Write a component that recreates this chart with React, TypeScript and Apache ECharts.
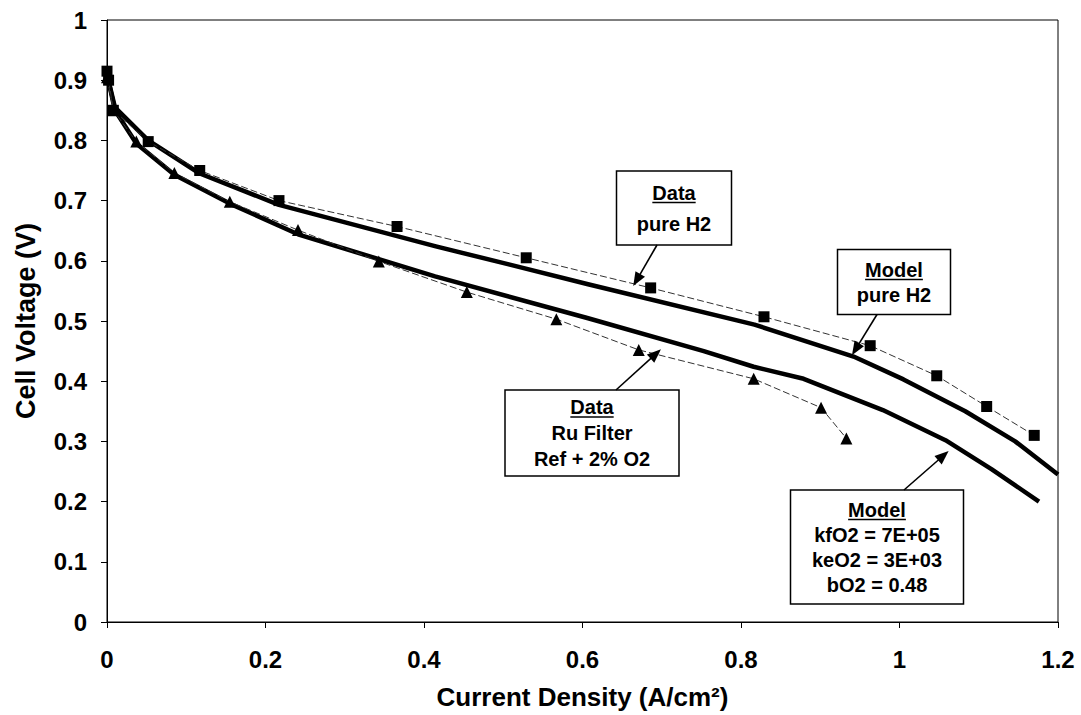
import React, { useEffect, useRef } from "react";
import * as echarts from "echarts";

// ---- Data ----
// Data, pure H2 (squares)
const currentH2Data = [0, 0.002, 0.008, 0.052, 0.117, 0.217, 0.366, 0.529, 0.686, 0.829, 0.963, 1.047, 1.11, 1.17];
const voltageH2Data = [0.915, 0.9, 0.85, 0.798, 0.75, 0.7, 0.657, 0.605, 0.555, 0.507, 0.459, 0.409, 0.358, 0.31];

// Data, Ru Filter, Ref + 2% O2 (triangles)
const currentRuData = [0, 0.008, 0.037, 0.085, 0.155, 0.241, 0.343, 0.454, 0.567, 0.671, 0.816, 0.901, 0.933];
const voltageRuData = [0.905, 0.85, 0.798, 0.746, 0.698, 0.651, 0.599, 0.548, 0.503, 0.452, 0.404, 0.356, 0.305];

// Model, pure H2 (thick line)
const currentModelH2 = [0, 0.01, 0.052, 0.117, 0.217, 0.415, 0.507, 0.607, 0.817, 0.942, 1.005, 1.083, 1.146, 1.2];
const voltageModelH2 = [0.91, 0.855, 0.8, 0.745, 0.693, 0.624, 0.594, 0.561, 0.494, 0.441, 0.403, 0.35, 0.3, 0.245];

// Model, kfO2 = 7E+05 ... (thick line)
const currentModelO2 = [0, 0.01, 0.037, 0.085, 0.155, 0.241, 0.414, 0.606, 0.753, 0.816, 0.879, 0.979, 1.058, 1.116, 1.176];
const voltageModelO2 = [0.91, 0.85, 0.795, 0.743, 0.695, 0.644, 0.574, 0.505, 0.45, 0.424, 0.404, 0.352, 0.302, 0.254, 0.2];

const xAxisTitle = "Current Density (A/cm²)";
const yAxisTitle = "Cell Voltage (V)";

// Annotation texts
const noteDataH2 = ["Data", "pure H2"];
const noteModelH2 = ["Model", "pure H2"];
const noteDataRu = ["Data", "Ru Filter", "Ref + 2% O2"];
const noteModelO2 = ["Model", "kfO2 = 7E+05", "keO2 = 3E+03", "bO2 = 0.48"];

const FONT = '"Liberation Sans", Arial, Helvetica, sans-serif';

const zip = (xs: number[], ys: number[]) => xs.map((x, i) => [x, ys[i]]);

type Note = {
  lines: string[];
  center: number[]; // data coords of box center
  w: number;
  h: number;
  gap: number;
  tailSide: "top" | "bottom";
  tailDx: number;
  tip: number[]; // data coords
};

const notes: Note[] = [
  { lines: noteDataH2, center: [0.715, 0.687], w: 115, h: 74, gap: 31, tailSide: "bottom", tailDx: -17, tip: [0.664, 0.558] },
  { lines: noteModelH2, center: [0.993, 0.564], w: 113, h: 65, gap: 25, tailSide: "bottom", tailDx: -17, tip: [0.94, 0.443] },
  { lines: noteDataRu, center: [0.612, 0.314], w: 174, h: 86, gap: 26, tailSide: "top", tailDx: 24, tip: [0.699, 0.453] },
  { lines: noteModelO2, center: [0.971, 0.125], w: 173, h: 114, gap: 25, tailSide: "top", tailDx: 27, tip: [1.062, 0.284] },
];

function measure(text: string, font: string): number {
  const c = document.createElement("canvas").getContext("2d");
  if (!c) return text.length * 10;
  c.font = font;
  return c.measureText(text).width;
}

export default function App() {
  const ref = useRef<HTMLDivElement>(null);

  useEffect(() => {
    document.body.style.margin = "0";
    if (!ref.current) return;
    const chart = echarts.init(ref.current, null, { renderer: "svg" });

    const axisLabelStyle = { fontFamily: FONT, fontWeight: "bold" as const, fontSize: 24, color: "#000" };
    const nameStyle = { fontFamily: FONT, fontWeight: "bold" as const, fontSize: 26, color: "#000" };

    const option: any = {
      animation: false,
      backgroundColor: "#fff",
      grid: {
        left: 107,
        right: 23,
        top: 20,
        bottom: 93,
        show: true,
        borderColor: "#000",
        borderWidth: 1,
        backgroundColor: "transparent",
      },
      xAxis: {
        type: "value",
        min: 0,
        max: 1.2,
        interval: 0.2,
        name: xAxisTitle,
        nameLocation: "middle",
        nameGap: 62,
        nameTextStyle: nameStyle,
        axisLine: { show: true, onZero: false, lineStyle: { color: "#000", width: 1 } },
        axisTick: { show: true, length: 6, lineStyle: { color: "#000" } },
        axisLabel: { ...axisLabelStyle, margin: 25 },
        splitLine: { show: false },
      },
      yAxis: {
        type: "value",
        min: 0,
        max: 1,
        interval: 0.1,
        name: yAxisTitle,
        nameLocation: "middle",
        nameGap: 68,
        nameRotate: 90,
        nameTextStyle: { ...nameStyle, fontSize: 27 },
        axisLine: { show: true, onZero: false, lineStyle: { color: "#000", width: 1 } },
        axisTick: { show: true, length: 6, lineStyle: { color: "#000" } },
        axisLabel: { ...axisLabelStyle, margin: 20 },
        splitLine: { show: false },
      },
      series: [
        {
          name: "Model pure H2",
          type: "line",
          data: zip(currentModelH2, voltageModelH2),
          showSymbol: false,
          symbol: "none",
          smooth: false,
          lineStyle: { color: "#000", width: 4.5, join: "round", cap: "butt" },
          z: 2,
        },
        {
          name: "Model O2",
          type: "line",
          data: zip(currentModelO2, voltageModelO2),
          showSymbol: false,
          symbol: "none",
          smooth: false,
          lineStyle: { color: "#000", width: 4.5, join: "round", cap: "butt" },
          z: 2,
        },
        {
          name: "Data pure H2",
          type: "line",
          data: zip(currentH2Data, voltageH2Data),
          symbol: "rect",
          symbolSize: 11,
          itemStyle: { color: "#000" },
          lineStyle: { color: "#333", width: 1, type: [7, 3] },
          z: 3,
        },
        {
          name: "Data Ru Filter",
          type: "line",
          data: zip(currentRuData, voltageRuData),
          symbol: "triangle",
          symbolSize: 12,
          itemStyle: { color: "#000" },
          lineStyle: { color: "#333", width: 1, type: [7, 3] },
          z: 3,
        },
      ],
    };

    chart.setOption(option);

    const textFont = `bold 20px ${FONT}`;
    const graphics: any[] = [];
    notes.forEach((n) => {
      const c = chart.convertToPixel({ gridIndex: 0 }, n.center) as number[];
      const tip = chart.convertToPixel({ gridIndex: 0 }, n.tip) as number[];
      const cx = Math.round(c[0]);
      const cy = Math.round(c[1]);
      const x0 = cx - n.w / 2;
      const y0 = cy - n.h / 2;
      graphics.push({
        type: "rect",
        shape: { x: x0, y: y0, width: n.w, height: n.h },
        style: { fill: "#fff", stroke: "#000", lineWidth: 1.5 },
        z: 10,
      });
      const count = n.lines.length;
      n.lines.forEach((t, i) => {
        const ty = cy + (i - (count - 1) / 2) * n.gap;
        graphics.push({
          type: "text",
          x: cx,
          y: ty,
          style: {
            text: t,
            font: textFont,
            fontFamily: FONT,
            fontWeight: "bold",
            fontSize: 20,
            fill: "#000",
            align: "center",
            verticalAlign: "middle",
          },
          z: 11,
        });
        if (i === 0) {
          const w = measure(t, textFont);
          graphics.push({
            type: "line",
            shape: { x1: cx - w / 2, y1: ty + 10, x2: cx + w / 2, y2: ty + 10 },
            style: { stroke: "#000", lineWidth: 1.6 },
            z: 11,
          });
        }
      });
      // arrow
      const tx = cx + n.tailDx;
      const tyy = n.tailSide === "top" ? y0 : y0 + n.h;
      const dx = tip[0] - tx;
      const dy = tip[1] - tyy;
      const len = Math.sqrt(dx * dx + dy * dy);
      const ux = dx / len;
      const uy = dy / len;
      const L = 14;
      const W = 5.5;
      const bx = tip[0] - ux * L;
      const by = tip[1] - uy * L;
      graphics.push({
        type: "line",
        shape: { x1: tx, y1: tyy, x2: bx + ux * 3, y2: by + uy * 3 },
        style: { stroke: "#000", lineWidth: 1.6 },
        z: 11,
      });
      graphics.push({
        type: "polygon",
        shape: {
          points: [
            [tip[0], tip[1]],
            [bx - uy * W, by + ux * W],
            [bx + uy * W, by - ux * W],
          ],
        },
        style: { fill: "#000" },
        z: 11,
      });
    });

    chart.setOption({ graphic: graphics });

    return () => {
      chart.dispose();
    };
  }, []);

  return (
    <div
      ref={ref}
      style={{ position: "fixed", left: 0, top: 0, width: 1081, height: 715, background: "#fff" }}
    />
  );
}
